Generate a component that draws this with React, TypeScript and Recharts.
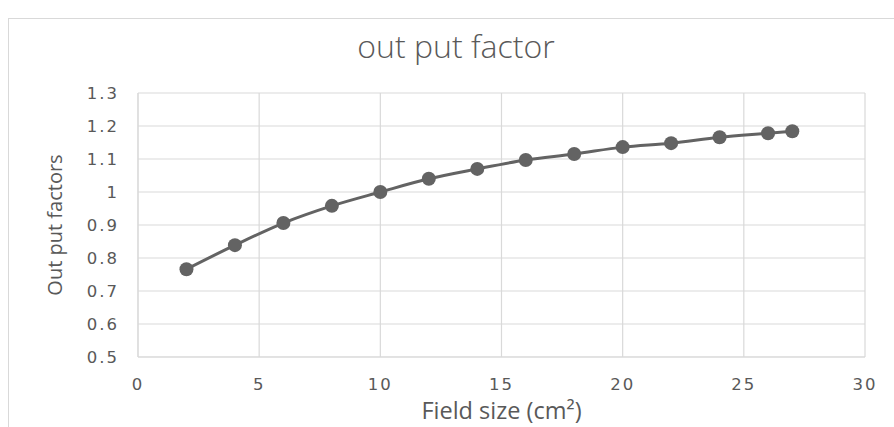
import { CartesianGrid, Line, LineChart, XAxis, YAxis } from "recharts";

const fieldSizes = [2, 4, 6, 8, 10, 12, 14, 16, 18, 20, 22, 24, 26, 27];
const outputFactors = [
  0.766, 0.839, 0.906, 0.958, 1.0, 1.04, 1.07, 1.097, 1.115, 1.136, 1.148,
  1.166, 1.178, 1.184,
];
const xTicks = [0, 5, 10, 15, 20, 25, 30];
const yTicks = [0.5, 0.6, 0.7, 0.8, 0.9, 1, 1.1, 1.2, 1.3];

const data = fieldSizes.map((x, i) => ({ x, y: outputFactors[i] }));

const gray = "#595959";
const tickStyle = {
  fill: gray,
  fontSize: 16.5,
  fontFamily: "DejaVu Sans",
  letterSpacing: 2,
};

export default function App() {
  return (
    <div
      style={{
        position: "absolute",
        left: 0,
        top: 0,
        width: 894,
        height: 427,
        background: "#fff",
        overflow: "hidden",
      }}
    >
      <div
        style={{
          position: "absolute",
          left: 8,
          top: 18,
          width: 900,
          height: 430,
          border: "1px solid #d9d9d9",
        }}
      />
      <div
        style={{
          position: "absolute",
          left: 256,
          top: 24,
          width: 400,
          textAlign: "center",
          color: gray,
          fontSize: 32,
          fontWeight: 300,
          fontFamily: "'Open Sans', sans-serif",
          whiteSpace: "nowrap",
        }}
      >
        out put factor
      </div>
      <LineChart
        width={894}
        height={427}
        data={data}
        margin={{ top: 93, right: 29, left: 0, bottom: 0 }}
        style={{ position: "absolute", left: 0, top: 0 }}
      >
        <CartesianGrid stroke="#d9d9d9" strokeWidth={1.2} />
        <XAxis
          type="number"
          dataKey="x"
          domain={[0, 30]}
          ticks={xTicks}
          height={70}
          stroke="#d9d9d9"
          tickLine={false}
          tickSize={0}
          tickMargin={21}
          tick={tickStyle}
          label={{
            value: "Field size (cm²)",
            position: "insideBottom",
            offset: 8,
            fill: gray,
            fontSize: 23.5,
            fontFamily: "'Open Sans', sans-serif",
          }}
        />
        <YAxis
          type="number"
          domain={[0.5, 1.3]}
          ticks={yTicks}
          width={138}
          stroke="#d9d9d9"
          tickLine={false}
          tickSize={0}
          tickMargin={19}
          tick={tickStyle}
          label={{
            value: "Out put factors",
            angle: -90,
            position: "insideLeft",
            offset: 55,
            style: { textAnchor: "middle" },
            fill: gray,
            fontSize: 20,
            fontFamily: "'Open Sans', sans-serif",
          }}
        />
        <Line
          type="monotone"
          dataKey="y"
          stroke="#636363"
          strokeWidth={3}
          dot={{ r: 7, fill: "#636363", stroke: "#636363", strokeWidth: 0 }}
          isAnimationActive={false}
        />
      </LineChart>
    </div>
  );
}
